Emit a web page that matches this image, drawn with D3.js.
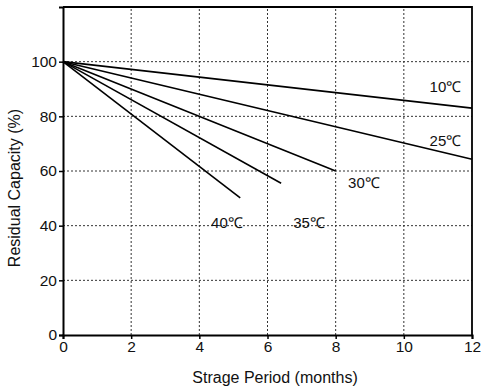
<!DOCTYPE html>
<html>
<head>
<meta charset="utf-8">
<script src="https://cdn.jsdelivr.net/npm/d3@7"></script>
<style>
    body { margin: 0; background: #fff; }
    text { font-family: "Liberation Sans", Arial, sans-serif; fill: #111; }
</style>
</head>
<body>
<div id="chart"></div>
<script>
// months of storage vs residual capacity, one line per temperature
var temps = ["10℃", "25℃", "30℃", "35℃", "40℃"];
var endMonths = [12, 12, 8, 6.4, 5.2];
var endCapacity = [83, 64.3, 60, 55.5, 50.2];
var startCapacity = 100;
var xTicks = [0, 2, 4, 6, 8, 10, 12];
var yTicks = [0, 20, 40, 60, 80, 100];
// where each label sits, in data units
var labelX = [11.22, 11.22, 8.83, 7.22, 4.81];
var labelY = [91, 70.9, 55.6, 40.9, 40.9];

(function () {
    var width = 482, height = 389;
    var margin = { left: 63, right: 10, top: 7, bottom: 54 };

    var svg = d3.select("#chart").append("svg")
        .attr("width", width)
        .attr("height", height);

    var x = d3.scaleLinear().domain([0, 12]).range([margin.left, width - margin.right]);
    var y = d3.scaleLinear().domain([0, 120]).range([height - margin.bottom, margin.top]);

    // dotted grid
    svg.append("g").selectAll("line")
        .data(xTicks.slice(1, -1))
        .enter().append("line")
        .attr("x1", d => x(d)).attr("x2", d => x(d))
        .attr("y1", y(0)).attr("y2", y(120))
        .attr("stroke", "#333").attr("stroke-width", 1)
        .attr("stroke-dasharray", "2,2");

    svg.append("g").selectAll("line")
        .data(yTicks.slice(1))
        .enter().append("line")
        .attr("x1", x(0)).attr("x2", x(12))
        .attr("y1", d => y(d)).attr("y2", d => y(d))
        .attr("stroke", "#333").attr("stroke-width", 1)
        .attr("stroke-dasharray", "2,2");

    // frame top/right
    svg.append("path")
        .attr("d", "M" + x(0) + "," + y(120) + "H" + x(12) + "V" + y(0))
        .attr("fill", "none").attr("stroke", "#000").attr("stroke-width", 1.8);

    var xAxis = svg.append("g")
        .attr("transform", "translate(0," + y(0) + ")")
        .call(d3.axisBottom(x).tickValues(xTicks).tickSize(4).tickPadding(2));
    var yAxis = svg.append("g")
        .attr("transform", "translate(" + x(0) + ",0)")
        .call(d3.axisLeft(y).tickValues(yTicks).tickSize(4).tickPadding(2));

    [xAxis, yAxis].forEach(function (a) {
        a.select(".domain").attr("stroke", "#000").attr("stroke-width", 2);
        a.selectAll(".tick line").attr("stroke", "#000").attr("stroke-width", 1.5);
        a.selectAll(".tick text")
            .style("font-family", "Liberation Sans, Arial, sans-serif")
            .style("font-size", "15.5px")
            .attr("fill", "#111");
    });

    // lines
    var line = d3.line().x(d => x(d[0])).y(d => y(d[1]));
    svg.append("g").selectAll("path")
        .data(temps.map((t, i) => [[0, startCapacity], [endMonths[i], endCapacity[i]]]))
        .enter().append("path")
        .attr("d", line)
        .attr("fill", "none")
        .attr("stroke", "#000")
        .attr("stroke-width", 1.6);

    svg.append("g").selectAll("text")
        .data(temps)
        .enter().append("text")
        .attr("x", (d, i) => x(labelX[i]))
        .attr("y", (d, i) => y(labelY[i]))
        .attr("dy", "0.35em")
        .style("text-anchor", "middle")
        .style("font-size", "15px")
        .text(d => d);

    svg.append("text")
        .attr("x", 275)
        .attr("y", 383)
        .style("text-anchor", "middle")
        .style("font-size", "16px")
        .text("Strage Period (months)");

    svg.append("text")
        .attr("transform", "translate(20,188) rotate(-90)")
        .style("text-anchor", "middle")
        .style("font-size", "16px")
        .text("Residual Capacity (%)");
})();
</script>
</body>
</html>
